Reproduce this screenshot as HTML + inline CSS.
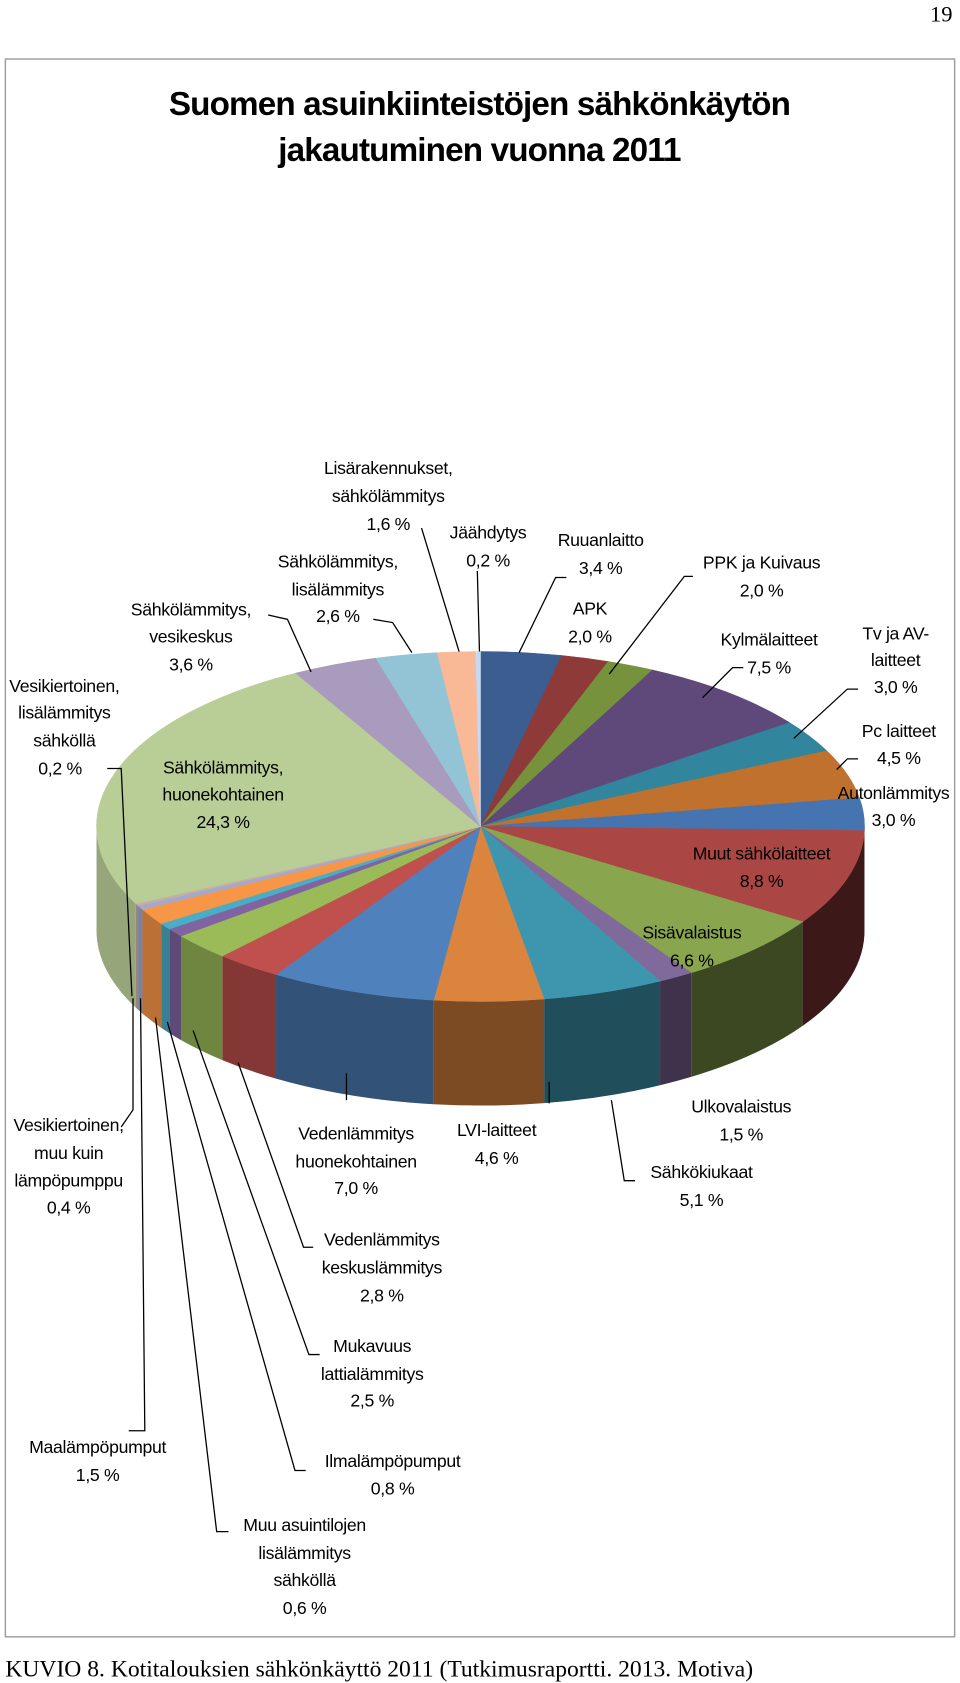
<!DOCTYPE html>
<html><head><meta charset="utf-8"><style>
html,body{margin:0;padding:0;background:#fff;}
svg{display:block;}
text{font-family:"Liberation Sans",sans-serif;}
.lb{font-size:16.5px;fill:#000;text-anchor:middle;dominant-baseline:central;letter-spacing:-0.3px;}
.ld{fill:none;stroke:#000;stroke-width:1.2;}
</style></head><body>
<svg id="chart" width="960" height="1683" viewBox="0 0 895 1568" preserveAspectRatio="none" xmlns="http://www.w3.org/2000/svg">
<text x="888" y="20" text-anchor="end" style="font-family:'Liberation Serif',serif;font-size:21px;">19</text>
<rect x="5" y="55" width="885" height="1470" fill="#fff" stroke="#9a9a9a" stroke-width="1.3"/>
<text x="447" y="107" text-anchor="middle" style="font-size:31px;font-weight:bold;letter-spacing:-0.8px;">Suomen asuinkiinteistöjen sähkönkäytön</text>
<text x="447" y="150" text-anchor="middle" style="font-size:31px;font-weight:bold;letter-spacing:-0.8px;">jakautuminen vuonna 2011</text>
<g id="sides"></g>
<g id="tops"></g>
<g>
<polyline class="ld" points="393,492 428,607"/>
<polyline class="ld" points="445,532 447,607"/>
<polyline class="ld" points="348,577 366,580 384,608"/>
<polyline class="ld" points="250,573 268,577 290,626"/>
<polyline class="ld" points="100,716 113,716 123,928"/>
<polyline class="ld" points="113,1050 124,1034 124,930"/>
<polyline class="ld" points="120,1333 135,1333 131,930"/>
<polyline class="ld" points="213,1427 202,1427 145,948"/>
<polyline class="ld" points="285,1370 275,1370 156,952"/>
<polyline class="ld" points="298,1262 288,1262 180,960"/>
<polyline class="ld" points="292,1162 283,1162 222,990"/>
<polyline class="ld" points="323,1000 323,1025"/>
<polyline class="ld" points="512,1008 512,1028"/>
<polyline class="ld" points="592,1100 582,1100 570,1025"/>
<polyline class="ld" points="528,538 518,538 484,608"/>
<polyline class="ld" points="646,537 638,537 568,628"/>
<polyline class="ld" points="693,622 683,622 655,650"/>
<polyline class="ld" points="800,642 790,642 740,688"/>
<polyline class="ld" points="800,707 790,707 780,717"/>
</g>
<g>
<text class="lb" x="362"><tspan x="362" y="436">Lisärakennukset,</tspan><tspan x="362" y="462">sähkölämmitys</tspan><tspan x="362" y="488">1,6 %</tspan></text>
<text class="lb"><tspan x="455" y="496">Jäähdytys</tspan><tspan x="455" y="522">0,2 %</tspan></text>
<text class="lb"><tspan x="560" y="503">Ruuanlaitto</tspan><tspan x="560" y="529">3,4 %</tspan></text>
<text class="lb"><tspan x="550" y="567">APK</tspan><tspan x="550" y="593">2,0 %</tspan></text>
<text class="lb"><tspan x="710" y="524">PPK ja Kuivaus</tspan><tspan x="710" y="550">2,0 %</tspan></text>
<text class="lb"><tspan x="717" y="596">Kylmälaitteet</tspan><tspan x="717" y="622">7,5 %</tspan></text>
<text class="lb"><tspan x="835" y="590">Tv ja AV-</tspan><tspan x="835" y="615">laitteet</tspan><tspan x="835" y="640">3,0 %</tspan></text>
<text class="lb"><tspan x="838" y="681">Pc laitteet</tspan><tspan x="838" y="706">4,5 %</tspan></text>
<text class="lb"><tspan x="833" y="739">Autonlämmitys</tspan><tspan x="833" y="764">3,0 %</tspan></text>
<text class="lb"><tspan x="710" y="795">Muut sähkölaitteet</tspan><tspan x="710" y="821">8,8 %</tspan></text>
<text class="lb"><tspan x="645" y="869">Sisävalaistus</tspan><tspan x="645" y="895">6,6 %</tspan></text>
<text class="lb"><tspan x="315" y="523">Sähkölämmitys,</tspan><tspan x="315" y="549">lisälämmitys</tspan><tspan x="315" y="574">2,6 %</tspan></text>
<text class="lb"><tspan x="178" y="568">Sähkölämmitys,</tspan><tspan x="178" y="593">vesikeskus</tspan><tspan x="178" y="619">3,6 %</tspan></text>
<text class="lb"><tspan x="60" y="639">Vesikiertoinen,</tspan><tspan x="60" y="664">lisälämmitys</tspan><tspan x="60" y="690">sähköllä</tspan><tspan x="56" y="716">0,2 %</tspan></text>
<text class="lb"><tspan x="208" y="715">Sähkölämmitys,</tspan><tspan x="208" y="740">huonekohtainen</tspan><tspan x="208" y="766">24,3 %</tspan></text>
<text class="lb"><tspan x="64" y="1048">Vesikiertoinen,</tspan><tspan x="64" y="1074">muu kuin</tspan><tspan x="64" y="1100">lämpöpumppu</tspan><tspan x="64" y="1125">0,4 %</tspan></text>
<text class="lb"><tspan x="332" y="1056">Vedenlämmitys</tspan><tspan x="332" y="1082">huonekohtainen</tspan><tspan x="332" y="1107">7,0 %</tspan></text>
<text class="lb"><tspan x="463" y="1053">LVI-laitteet</tspan><tspan x="463" y="1079">4,6 %</tspan></text>
<text class="lb"><tspan x="691" y="1031">Ulkovalaistus</tspan><tspan x="691" y="1057">1,5 %</tspan></text>
<text class="lb"><tspan x="654" y="1092">Sähkökiukaat</tspan><tspan x="654" y="1118">5,1 %</tspan></text>
<text class="lb"><tspan x="356" y="1155">Vedenlämmitys</tspan><tspan x="356" y="1181">keskuslämmitys</tspan><tspan x="356" y="1207">2,8 %</tspan></text>
<text class="lb"><tspan x="347" y="1254">Mukavuus</tspan><tspan x="347" y="1280">lattialämmitys</tspan><tspan x="347" y="1305">2,5 %</tspan></text>
<text class="lb"><tspan x="91" y="1348">Maalämpöpumput</tspan><tspan x="91" y="1374">1,5 %</tspan></text>
<text class="lb"><tspan x="366" y="1361">Ilmalämpöpumput</tspan><tspan x="366" y="1387">0,8 %</tspan></text>
<text class="lb"><tspan x="284" y="1421">Muu asuintilojen</tspan><tspan x="284" y="1447">lisälämmitys</tspan><tspan x="284" y="1472">sähköllä</tspan><tspan x="284" y="1498">0,6 %</tspan></text>
</g>
<text x="5" y="1562" style="font-family:'Liberation Serif',serif;font-size:22px;">KUVIO 8. Kotitalouksien sähkönkäyttö 2011 (Tutkimusraportti. 2013. Motiva)</text>
</svg>
<script>
const categories = ["Ruuanlaitto","APK","PPK ja Kuivaus","Kylmälaitteet","Tv ja AV-laitteet","Pc laitteet","Autonlämmitys","Muut sähkölaitteet","Sisävalaistus","Ulkovalaistus","Sähkökiukaat","LVI-laitteet","Vedenlämmitys huonekohtainen","Vedenlämmitys keskuslämmitys","Mukavuus lattialämmitys","Ilmalämpöpumput","Muu asuintilojen lisälämmitys","Maalämpöpumput","Vesikiertoinen muu kuin lämpöpumppu","Vesikiertoinen lisälämmitys sähköllä","Sähkölämmitys huonekohtainen","Sähkölämmitys vesikeskus","Sähkölämmitys lisälämmitys","Lisärakennukset sähkölämmitys","Jäähdytys"];
const values = [3.4,2.0,2.0,7.5,3.0,4.5,3.0,8.8,6.6,1.5,5.1,4.6,7.0,2.8,2.5,0.8,0.6,1.5,0.4,0.2,24.3,3.6,2.6,1.6,0.2];
const colors = ["#3b5d8f","#8e3a39","#76923c","#5f497a","#31859c","#c0712e","#4574b0","#aa4643","#89a54e","#80699b","#3d96ae","#db843d","#4f81bd","#c0504d","#9bbb59","#8064a2","#4bacc6","#f79646","#a5a8cc","#c4b0a0","#b9cd96","#a99bbd","#93c4d6","#f9b996","#c6d9f1"];
const cx=448, cy=770, rx=358, ry=163, depth=97;
const NS="http://www.w3.org/2000/svg";
const total=values.reduce((a,b)=>a+b,0);
function angle(v){return v/total*2*Math.PI;}
function pt(t,off){return [cx+rx*Math.sin(t), cy-ry*Math.cos(t)+(off||0)];}
function shade(hex,f){const n=parseInt(hex.slice(1),16);const r=Math.round(((n>>16)&255)*f),g=Math.round(((n>>8)&255)*f),b=Math.round((n&255)*f);return "rgb("+r+","+g+","+b+")";}
const sides=document.getElementById("sides"), tops=document.getElementById("tops");
let acc=0;
values.forEach(function(v,i){
  const a1=angle(acc), a2=angle(acc+v); acc+=v;
  const s=Math.max(a1,Math.PI/2), e=Math.min(a2,3*Math.PI/2);
  if(e>s){
    const p1=pt(s),p2=pt(e),p3=pt(e,depth),p4=pt(s,depth);
    const mid=(s+e)/2, f=0.3+0.55*(mid-Math.PI/2)/Math.PI;
    const sp=document.createElementNS(NS,"path");
    sp.setAttribute("d","M"+p1+" A"+rx+" "+ry+" 0 0 1 "+p2+" L"+p3+" A"+rx+" "+ry+" 0 0 0 "+p4+" Z");
    sp.setAttribute("fill",shade(colors[i],f));
    
    
    sides.appendChild(sp);
  }
  const q1=pt(a1),q2=pt(a2);
  const large=(a2-a1)>Math.PI?1:0;
  const tp=document.createElementNS(NS,"path");
  tp.setAttribute("d","M"+cx+","+cy+" L"+q1+" A"+rx+" "+ry+" 0 "+large+" 1 "+q2+" Z");
  tp.setAttribute("fill",colors[i]);
  tp.setAttribute("stroke",colors[i]);
  tp.setAttribute("stroke-width","0.5");
  
  
  const title=document.createElementNS(NS,"title");
  title.textContent=categories[i]+" "+String(v).replace(".",",")+" %";
  tp.appendChild(title);
  tops.appendChild(tp);
});
</script>
</body></html>
